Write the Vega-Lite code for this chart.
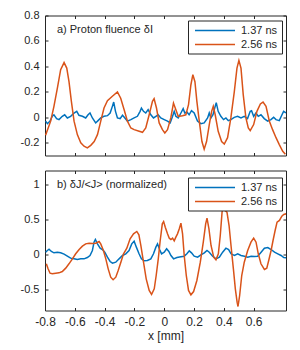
{
  "$schema": "https://vega.github.io/schema/vega-lite/v6.json",
  "padding": {"left": 19, "top": 8.5, "right": 5, "bottom": 5},
  "background": "white",
  "spacing": 13,
  "config": {
    "font": "Liberation Sans",
    "view": {"stroke": "#262626", "strokeWidth": 1},
    "axis": {"domain": false, "grid": false, "tickColor": "#262626", "tickSize": -3, "labelColor": "#262626", "labelFontSize": 11, "labelFont": "Liberation Sans", "labelPadding": 9, "labelFlush": false, "titleFontSize": 12, "titleFont": "Liberation Sans", "titleFontWeight": "normal", "titleColor": "#262626"},
    "legend": {"orient": "none", "title": null, "strokeColor": "#262626", "fillColor": "white", "padding": 4, "symbolType": "M-4,0H4", "symbolSize": 100, "symbolStrokeWidth": 1.5, "symbolOffset": 17, "labelOffset": 20, "labelFontSize": 11, "labelFont": "Liberation Sans", "labelColor": "#262626", "rowPadding": 3, "cornerRadius": 0}
  },
  "datasets": {
    "a": [
      {"series": "1.37 ns", "x": -0.796, "y": -0.03}, {"series": "1.37 ns", "x": -0.784, "y": -0.05}, {"series": "1.37 ns", "x": -0.766, "y": -0.03}, {"series": "1.37 ns", "x": -0.751, "y": 0.008}, {"series": "1.37 ns", "x": -0.74, "y": 0.02}, {"series": "1.37 ns", "x": -0.722, "y": -0.01}, {"series": "1.37 ns", "x": -0.706, "y": -0.018}, {"series": "1.37 ns", "x": -0.684, "y": 0.008}, {"series": "1.37 ns", "x": -0.668, "y": 0.02}, {"series": "1.37 ns", "x": -0.65, "y": -0.005}, {"series": "1.37 ns", "x": -0.628, "y": 0.008}, {"series": "1.37 ns", "x": -0.605, "y": 0.034}, {"series": "1.37 ns", "x": -0.587, "y": 0.047}, {"series": "1.37 ns", "x": -0.572, "y": 0.016}, {"series": "1.37 ns", "x": -0.549, "y": 0.008}, {"series": "1.37 ns", "x": -0.527, "y": -0.005}, {"series": "1.37 ns", "x": -0.511, "y": 0.02}, {"series": "1.37 ns", "x": -0.498, "y": 0.034}, {"series": "1.37 ns", "x": -0.482, "y": -0.005}, {"series": "1.37 ns", "x": -0.46, "y": -0.044}, {"series": "1.37 ns", "x": -0.444, "y": -0.026}, {"series": "1.37 ns", "x": -0.426, "y": -0.005}, {"series": "1.37 ns", "x": -0.404, "y": 0.008}, {"series": "1.37 ns", "x": -0.381, "y": 0.013}, {"series": "1.37 ns", "x": -0.363, "y": 0.034}, {"series": "1.37 ns", "x": -0.348, "y": 0.086}, {"series": "1.37 ns", "x": -0.339, "y": 0.12}, {"series": "1.37 ns", "x": -0.327, "y": 0.047}, {"series": "1.37 ns", "x": -0.314, "y": -0.005}, {"series": "1.37 ns", "x": -0.296, "y": -0.01}, {"series": "1.37 ns", "x": -0.28, "y": 0.016}, {"series": "1.37 ns", "x": -0.264, "y": -0.005}, {"series": "1.37 ns", "x": -0.247, "y": -0.03}, {"series": "1.37 ns", "x": -0.224, "y": -0.018}, {"series": "1.37 ns", "x": -0.202, "y": -0.005}, {"series": "1.37 ns", "x": -0.18, "y": 0.008}, {"series": "1.37 ns", "x": -0.162, "y": 0.047}, {"series": "1.37 ns", "x": -0.153, "y": 0.073}, {"series": "1.37 ns", "x": -0.139, "y": 0.047}, {"series": "1.37 ns", "x": -0.124, "y": 0.034}, {"series": "1.37 ns", "x": -0.108, "y": 0.06}, {"series": "1.37 ns", "x": -0.09, "y": 0.02}, {"series": "1.37 ns", "x": -0.072, "y": -0.005}, {"series": "1.37 ns", "x": -0.056, "y": 0.008}, {"series": "1.37 ns", "x": -0.041, "y": 0.02}, {"series": "1.37 ns", "x": -0.023, "y": -0.005}, {"series": "1.37 ns", "x": 0.0, "y": -0.018}, {"series": "1.37 ns", "x": 0.022, "y": -0.03}, {"series": "1.37 ns", "x": 0.04, "y": -0.044}, {"series": "1.37 ns", "x": 0.056, "y": 0.008}, {"series": "1.37 ns", "x": 0.067, "y": 0.047}, {"series": "1.37 ns", "x": 0.078, "y": 0.008}, {"series": "1.37 ns", "x": 0.094, "y": -0.005}, {"series": "1.37 ns", "x": 0.112, "y": 0.034}, {"series": "1.37 ns", "x": 0.127, "y": 0.068}, {"series": "1.37 ns", "x": 0.138, "y": 0.034}, {"series": "1.37 ns", "x": 0.152, "y": 0.042}, {"series": "1.37 ns", "x": 0.167, "y": 0.02}, {"series": "1.37 ns", "x": 0.183, "y": 0.052}, {"series": "1.37 ns", "x": 0.201, "y": 0.034}, {"series": "1.37 ns", "x": 0.223, "y": -0.03}, {"series": "1.37 ns", "x": 0.246, "y": -0.05}, {"series": "1.37 ns", "x": 0.268, "y": -0.044}, {"series": "1.37 ns", "x": 0.291, "y": -0.005}, {"series": "1.37 ns", "x": 0.302, "y": 0.034}, {"series": "1.37 ns", "x": 0.313, "y": -0.005}, {"series": "1.37 ns", "x": 0.327, "y": 0.02}, {"series": "1.37 ns", "x": 0.34, "y": 0.078}, {"series": "1.37 ns", "x": 0.349, "y": 0.115}, {"series": "1.37 ns", "x": 0.362, "y": 0.047}, {"series": "1.37 ns", "x": 0.38, "y": 0.008}, {"series": "1.37 ns", "x": 0.398, "y": -0.018}, {"series": "1.37 ns", "x": 0.414, "y": -0.005}, {"series": "1.37 ns", "x": 0.43, "y": -0.026}, {"series": "1.37 ns", "x": 0.447, "y": -0.018}, {"series": "1.37 ns", "x": 0.47, "y": 0.0}, {"series": "1.37 ns", "x": 0.492, "y": 0.008}, {"series": "1.37 ns", "x": 0.515, "y": -0.005}, {"series": "1.37 ns", "x": 0.537, "y": 0.008}, {"series": "1.37 ns", "x": 0.559, "y": -0.01}, {"series": "1.37 ns", "x": 0.577, "y": 0.047}, {"series": "1.37 ns", "x": 0.586, "y": 0.052}, {"series": "1.37 ns", "x": 0.6, "y": 0.008}, {"series": "1.37 ns", "x": 0.615, "y": 0.034}, {"series": "1.37 ns", "x": 0.631, "y": 0.008}, {"series": "1.37 ns", "x": 0.649, "y": 0.02}, {"series": "1.37 ns", "x": 0.671, "y": -0.01}, {"series": "1.37 ns", "x": 0.694, "y": -0.03}, {"series": "1.37 ns", "x": 0.716, "y": -0.018}, {"series": "1.37 ns", "x": 0.734, "y": 0.0}, {"series": "1.37 ns", "x": 0.75, "y": -0.018}, {"series": "1.37 ns", "x": 0.772, "y": -0.026}, {"series": "1.37 ns", "x": 0.79, "y": 0.02}, {"series": "1.37 ns", "x": 0.801, "y": 0.047}, {"series": "1.37 ns", "x": 0.817, "y": 0.034},
      {"series": "2.56 ns", "x": -0.796, "y": -0.14}, {"series": "2.56 ns", "x": -0.762, "y": -0.03}, {"series": "2.56 ns", "x": -0.74, "y": 0.086}, {"series": "2.56 ns", "x": -0.717, "y": 0.23}, {"series": "2.56 ns", "x": -0.695, "y": 0.374}, {"series": "2.56 ns", "x": -0.672, "y": 0.43}, {"series": "2.56 ns", "x": -0.654, "y": 0.387}, {"series": "2.56 ns", "x": -0.639, "y": 0.28}, {"series": "2.56 ns", "x": -0.623, "y": 0.125}, {"series": "2.56 ns", "x": -0.605, "y": -0.03}, {"series": "2.56 ns", "x": -0.583, "y": -0.136}, {"series": "2.56 ns", "x": -0.56, "y": -0.2}, {"series": "2.56 ns", "x": -0.538, "y": -0.227}, {"series": "2.56 ns", "x": -0.516, "y": -0.24}, {"series": "2.56 ns", "x": -0.493, "y": -0.22}, {"series": "2.56 ns", "x": -0.47, "y": -0.19}, {"series": "2.56 ns", "x": -0.448, "y": -0.136}, {"series": "2.56 ns", "x": -0.426, "y": -0.03}, {"series": "2.56 ns", "x": -0.404, "y": 0.073}, {"series": "2.56 ns", "x": -0.381, "y": 0.13}, {"series": "2.56 ns", "x": -0.348, "y": 0.165}, {"series": "2.56 ns", "x": -0.314, "y": 0.2}, {"series": "2.56 ns", "x": -0.292, "y": 0.15}, {"series": "2.56 ns", "x": -0.269, "y": 0.06}, {"series": "2.56 ns", "x": -0.247, "y": -0.03}, {"series": "2.56 ns", "x": -0.224, "y": -0.084}, {"series": "2.56 ns", "x": -0.202, "y": -0.097}, {"series": "2.56 ns", "x": -0.168, "y": -0.11}, {"series": "2.56 ns", "x": -0.146, "y": -0.118}, {"series": "2.56 ns", "x": -0.124, "y": -0.084}, {"series": "2.56 ns", "x": -0.101, "y": 0.02}, {"series": "2.56 ns", "x": -0.079, "y": 0.125}, {"series": "2.56 ns", "x": -0.068, "y": 0.146}, {"series": "2.56 ns", "x": -0.052, "y": 0.073}, {"series": "2.56 ns", "x": -0.034, "y": -0.044}, {"series": "2.56 ns", "x": -0.012, "y": -0.097}, {"series": "2.56 ns", "x": 0.004, "y": -0.123}, {"series": "2.56 ns", "x": 0.022, "y": -0.097}, {"series": "2.56 ns", "x": 0.044, "y": -0.005}, {"series": "2.56 ns", "x": 0.062, "y": 0.112}, {"series": "2.56 ns", "x": 0.078, "y": 0.06}, {"series": "2.56 ns", "x": 0.094, "y": 0.008}, {"series": "2.56 ns", "x": 0.123, "y": 0.013}, {"series": "2.56 ns", "x": 0.145, "y": 0.02}, {"series": "2.56 ns", "x": 0.163, "y": 0.1}, {"series": "2.56 ns", "x": 0.179, "y": 0.256}, {"series": "2.56 ns", "x": 0.192, "y": 0.335}, {"series": "2.56 ns", "x": 0.206, "y": 0.28}, {"series": "2.56 ns", "x": 0.219, "y": 0.125}, {"series": "2.56 ns", "x": 0.235, "y": -0.03}, {"series": "2.56 ns", "x": 0.253, "y": -0.19}, {"series": "2.56 ns", "x": 0.268, "y": -0.25}, {"series": "2.56 ns", "x": 0.284, "y": -0.19}, {"series": "2.56 ns", "x": 0.302, "y": -0.06}, {"series": "2.56 ns", "x": 0.318, "y": 0.047}, {"series": "2.56 ns", "x": 0.329, "y": 0.086}, {"series": "2.56 ns", "x": 0.342, "y": 0.02}, {"series": "2.56 ns", "x": 0.362, "y": -0.11}, {"series": "2.56 ns", "x": 0.385, "y": -0.19}, {"series": "2.56 ns", "x": 0.403, "y": -0.21}, {"series": "2.56 ns", "x": 0.425, "y": -0.16}, {"series": "2.56 ns", "x": 0.447, "y": -0.005}, {"series": "2.56 ns", "x": 0.47, "y": 0.2}, {"series": "2.56 ns", "x": 0.488, "y": 0.387}, {"series": "2.56 ns", "x": 0.501, "y": 0.447}, {"series": "2.56 ns", "x": 0.515, "y": 0.387}, {"series": "2.56 ns", "x": 0.53, "y": 0.178}, {"series": "2.56 ns", "x": 0.548, "y": -0.005}, {"series": "2.56 ns", "x": 0.564, "y": -0.084}, {"series": "2.56 ns", "x": 0.577, "y": -0.105}, {"series": "2.56 ns", "x": 0.6, "y": -0.057}, {"series": "2.56 ns", "x": 0.622, "y": 0.047}, {"series": "2.56 ns", "x": 0.645, "y": 0.105}, {"series": "2.56 ns", "x": 0.663, "y": 0.12}, {"series": "2.56 ns", "x": 0.683, "y": 0.086}, {"series": "2.56 ns", "x": 0.705, "y": -0.03}, {"series": "2.56 ns", "x": 0.727, "y": -0.097}, {"series": "2.56 ns", "x": 0.75, "y": -0.16}, {"series": "2.56 ns", "x": 0.772, "y": -0.214}, {"series": "2.56 ns", "x": 0.795, "y": -0.267}, {"series": "2.56 ns", "x": 0.813, "y": -0.29}
    ],
    "b": [
      {"series": "1.37 ns", "x": -0.796, "y": 0.033}, {"series": "1.37 ns", "x": -0.784, "y": 0.057}, {"series": "1.37 ns", "x": -0.773, "y": 0.075}, {"series": "1.37 ns", "x": -0.757, "y": 0.043}, {"series": "1.37 ns", "x": -0.74, "y": 0.024}, {"series": "1.37 ns", "x": -0.717, "y": 0.033}, {"series": "1.37 ns", "x": -0.695, "y": 0.024}, {"series": "1.37 ns", "x": -0.672, "y": 0.005}, {"series": "1.37 ns", "x": -0.65, "y": -0.024}, {"series": "1.37 ns", "x": -0.628, "y": -0.052}, {"series": "1.37 ns", "x": -0.605, "y": -0.062}, {"series": "1.37 ns", "x": -0.583, "y": -0.071}, {"series": "1.37 ns", "x": -0.56, "y": -0.062}, {"series": "1.37 ns", "x": -0.538, "y": -0.062}, {"series": "1.37 ns", "x": -0.516, "y": -0.043}, {"series": "1.37 ns", "x": -0.498, "y": -0.014}, {"series": "1.37 ns", "x": -0.482, "y": 0.057}, {"series": "1.37 ns", "x": -0.471, "y": 0.176}, {"series": "1.37 ns", "x": -0.462, "y": 0.214}, {"series": "1.37 ns", "x": -0.448, "y": 0.152}, {"series": "1.37 ns", "x": -0.43, "y": 0.09}, {"series": "1.37 ns", "x": -0.415, "y": 0.071}, {"series": "1.37 ns", "x": -0.399, "y": 0.033}, {"series": "1.37 ns", "x": -0.381, "y": -0.038}, {"series": "1.37 ns", "x": -0.363, "y": -0.1}, {"series": "1.37 ns", "x": -0.347, "y": -0.124}, {"series": "1.37 ns", "x": -0.325, "y": -0.11}, {"series": "1.37 ns", "x": -0.303, "y": -0.062}, {"series": "1.37 ns", "x": -0.28, "y": -0.014}, {"series": "1.37 ns", "x": -0.258, "y": 0.01}, {"series": "1.37 ns", "x": -0.236, "y": 0.057}, {"series": "1.37 ns", "x": -0.218, "y": 0.152}, {"series": "1.37 ns", "x": -0.202, "y": 0.19}, {"series": "1.37 ns", "x": -0.187, "y": 0.105}, {"series": "1.37 ns", "x": -0.169, "y": 0.01}, {"series": "1.37 ns", "x": -0.153, "y": -0.062}, {"series": "1.37 ns", "x": -0.135, "y": -0.09}, {"series": "1.37 ns", "x": -0.113, "y": -0.086}, {"series": "1.37 ns", "x": -0.09, "y": -0.062}, {"series": "1.37 ns", "x": -0.072, "y": 0.01}, {"series": "1.37 ns", "x": -0.056, "y": 0.105}, {"series": "1.37 ns", "x": -0.045, "y": 0.152}, {"series": "1.37 ns", "x": -0.031, "y": 0.071}, {"series": "1.37 ns", "x": -0.018, "y": 0.01}, {"series": "1.37 ns", "x": 0.0, "y": 0.033}, {"series": "1.37 ns", "x": 0.016, "y": 0.081}, {"series": "1.37 ns", "x": 0.031, "y": 0.043}, {"series": "1.37 ns", "x": 0.045, "y": -0.014}, {"series": "1.37 ns", "x": 0.063, "y": -0.062}, {"series": "1.37 ns", "x": 0.085, "y": -0.043}, {"series": "1.37 ns", "x": 0.112, "y": -0.033}, {"series": "1.37 ns", "x": 0.134, "y": -0.024}, {"series": "1.37 ns", "x": 0.152, "y": 0.01}, {"series": "1.37 ns", "x": 0.168, "y": 0.052}, {"series": "1.37 ns", "x": 0.183, "y": 0.024}, {"series": "1.37 ns", "x": 0.201, "y": -0.024}, {"series": "1.37 ns", "x": 0.224, "y": -0.038}, {"series": "1.37 ns", "x": 0.246, "y": -0.005}, {"series": "1.37 ns", "x": 0.269, "y": 0.024}, {"series": "1.37 ns", "x": 0.287, "y": 0.057}, {"series": "1.37 ns", "x": 0.302, "y": 0.033}, {"series": "1.37 ns", "x": 0.325, "y": -0.024}, {"series": "1.37 ns", "x": 0.347, "y": -0.062}, {"series": "1.37 ns", "x": 0.37, "y": -0.038}, {"series": "1.37 ns", "x": 0.392, "y": 0.033}, {"series": "1.37 ns", "x": 0.414, "y": 0.09}, {"series": "1.37 ns", "x": 0.432, "y": 0.071}, {"series": "1.37 ns", "x": 0.448, "y": 0.01}, {"series": "1.37 ns", "x": 0.471, "y": -0.014}, {"series": "1.37 ns", "x": 0.493, "y": 0.01}, {"series": "1.37 ns", "x": 0.515, "y": -0.014}, {"series": "1.37 ns", "x": 0.538, "y": -0.024}, {"series": "1.37 ns", "x": 0.56, "y": -0.038}, {"series": "1.37 ns", "x": 0.583, "y": -0.024}, {"series": "1.37 ns", "x": 0.605, "y": -0.029}, {"series": "1.37 ns", "x": 0.627, "y": -0.024}, {"series": "1.37 ns", "x": 0.65, "y": 0.033}, {"series": "1.37 ns", "x": 0.672, "y": 0.09}, {"series": "1.37 ns", "x": 0.695, "y": 0.1}, {"series": "1.37 ns", "x": 0.717, "y": 0.071}, {"series": "1.37 ns", "x": 0.74, "y": 0.033}, {"series": "1.37 ns", "x": 0.762, "y": 0.01}, {"series": "1.37 ns", "x": 0.784, "y": -0.014}, {"series": "1.37 ns", "x": 0.802, "y": -0.043}, {"series": "1.37 ns", "x": 0.818, "y": -0.048},
      {"series": "2.56 ns", "x": -0.791, "y": -0.133}, {"series": "2.56 ns", "x": -0.78, "y": -0.2}, {"series": "2.56 ns", "x": -0.766, "y": -0.267}, {"series": "2.56 ns", "x": -0.751, "y": -0.276}, {"series": "2.56 ns", "x": -0.728, "y": -0.267}, {"series": "2.56 ns", "x": -0.706, "y": -0.262}, {"series": "2.56 ns", "x": -0.684, "y": -0.243}, {"series": "2.56 ns", "x": -0.661, "y": -0.195}, {"series": "2.56 ns", "x": -0.639, "y": -0.133}, {"series": "2.56 ns", "x": -0.616, "y": -0.062}, {"series": "2.56 ns", "x": -0.594, "y": 0.01}, {"series": "2.56 ns", "x": -0.571, "y": 0.071}, {"series": "2.56 ns", "x": -0.549, "y": 0.119}, {"series": "2.56 ns", "x": -0.527, "y": 0.152}, {"series": "2.56 ns", "x": -0.504, "y": 0.162}, {"series": "2.56 ns", "x": -0.482, "y": 0.157}, {"series": "2.56 ns", "x": -0.46, "y": 0.162}, {"series": "2.56 ns", "x": -0.437, "y": 0.186}, {"series": "2.56 ns", "x": -0.426, "y": 0.152}, {"series": "2.56 ns", "x": -0.408, "y": 0.057}, {"series": "2.56 ns", "x": -0.392, "y": -0.062}, {"series": "2.56 ns", "x": -0.376, "y": -0.205}, {"series": "2.56 ns", "x": -0.359, "y": -0.324}, {"series": "2.56 ns", "x": -0.343, "y": -0.36}, {"series": "2.56 ns", "x": -0.325, "y": -0.324}, {"series": "2.56 ns", "x": -0.309, "y": -0.229}, {"series": "2.56 ns", "x": -0.291, "y": -0.11}, {"series": "2.56 ns", "x": -0.273, "y": 0.01}, {"series": "2.56 ns", "x": -0.251, "y": 0.09}, {"series": "2.56 ns", "x": -0.229, "y": 0.224}, {"series": "2.56 ns", "x": -0.206, "y": 0.295}, {"series": "2.56 ns", "x": -0.184, "y": 0.329}, {"series": "2.56 ns", "x": -0.17, "y": 0.281}, {"series": "2.56 ns", "x": -0.157, "y": 0.129}, {"series": "2.56 ns", "x": -0.139, "y": -0.11}, {"series": "2.56 ns", "x": -0.121, "y": -0.348}, {"series": "2.56 ns", "x": -0.101, "y": -0.514}, {"series": "2.56 ns", "x": -0.085, "y": -0.571}, {"series": "2.56 ns", "x": -0.067, "y": -0.49}, {"series": "2.56 ns", "x": -0.054, "y": -0.3}, {"series": "2.56 ns", "x": -0.04, "y": -0.062}, {"series": "2.56 ns", "x": -0.027, "y": 0.2}, {"series": "2.56 ns", "x": -0.013, "y": 0.438}, {"series": "2.56 ns", "x": -0.004, "y": 0.471}, {"series": "2.56 ns", "x": 0.007, "y": 0.39}, {"series": "2.56 ns", "x": 0.022, "y": 0.295}, {"series": "2.56 ns", "x": 0.034, "y": 0.233}, {"series": "2.56 ns", "x": 0.045, "y": 0.214}, {"series": "2.56 ns", "x": 0.056, "y": 0.233}, {"series": "2.56 ns", "x": 0.067, "y": 0.195}, {"series": "2.56 ns", "x": 0.078, "y": 0.248}, {"series": "2.56 ns", "x": 0.089, "y": 0.295}, {"series": "2.56 ns", "x": 0.101, "y": 0.367}, {"series": "2.56 ns", "x": 0.112, "y": 0.448}, {"series": "2.56 ns", "x": 0.123, "y": 0.295}, {"series": "2.56 ns", "x": 0.134, "y": -0.014}, {"series": "2.56 ns", "x": 0.148, "y": -0.3}, {"series": "2.56 ns", "x": 0.163, "y": -0.514}, {"series": "2.56 ns", "x": 0.179, "y": -0.576}, {"series": "2.56 ns", "x": 0.197, "y": -0.529}, {"series": "2.56 ns", "x": 0.219, "y": -0.371}, {"series": "2.56 ns", "x": 0.242, "y": -0.11}, {"series": "2.56 ns", "x": 0.262, "y": 0.176}, {"series": "2.56 ns", "x": 0.278, "y": 0.438}, {"series": "2.56 ns", "x": 0.287, "y": 0.519}, {"series": "2.56 ns", "x": 0.3, "y": 0.367}, {"series": "2.56 ns", "x": 0.314, "y": 0.129}, {"series": "2.56 ns", "x": 0.332, "y": -0.038}, {"series": "2.56 ns", "x": 0.347, "y": -0.076}, {"series": "2.56 ns", "x": 0.363, "y": 0.01}, {"series": "2.56 ns", "x": 0.376, "y": 0.271}, {"series": "2.56 ns", "x": 0.388, "y": 0.605}, {"series": "2.56 ns", "x": 0.397, "y": 0.7}, {"series": "2.56 ns", "x": 0.408, "y": 0.629}, {"series": "2.56 ns", "x": 0.421, "y": 0.605}, {"series": "2.56 ns", "x": 0.435, "y": 0.414}, {"series": "2.56 ns", "x": 0.448, "y": 0.129}, {"series": "2.56 ns", "x": 0.464, "y": -0.205}, {"series": "2.56 ns", "x": 0.477, "y": -0.49}, {"series": "2.56 ns", "x": 0.489, "y": -0.681}, {"series": "2.56 ns", "x": 0.495, "y": -0.743}, {"series": "2.56 ns", "x": 0.506, "y": -0.586}, {"series": "2.56 ns", "x": 0.52, "y": -0.3}, {"series": "2.56 ns", "x": 0.537, "y": -0.11}, {"series": "2.56 ns", "x": 0.56, "y": 0.057}, {"series": "2.56 ns", "x": 0.582, "y": 0.176}, {"series": "2.56 ns", "x": 0.6, "y": 0.233}, {"series": "2.56 ns", "x": 0.616, "y": 0.176}, {"series": "2.56 ns", "x": 0.631, "y": 0.01}, {"series": "2.56 ns", "x": 0.649, "y": -0.133}, {"series": "2.56 ns", "x": 0.672, "y": -0.214}, {"series": "2.56 ns", "x": 0.688, "y": -0.195}, {"series": "2.56 ns", "x": 0.701, "y": -0.086}, {"series": "2.56 ns", "x": 0.717, "y": 0.057}, {"series": "2.56 ns", "x": 0.73, "y": 0.2}, {"series": "2.56 ns", "x": 0.744, "y": 0.343}, {"series": "2.56 ns", "x": 0.757, "y": 0.462}, {"series": "2.56 ns", "x": 0.773, "y": 0.486}, {"series": "2.56 ns", "x": 0.789, "y": 0.548}, {"series": "2.56 ns", "x": 0.802, "y": 0.571}, {"series": "2.56 ns", "x": 0.818, "y": 0.581}
    ],
    "labels": [
      {"panel": "a", "label": "a) Proton fluence δI"},
      {"panel": "b", "label": "b) δJ/<J> (normalized)"}
    ]
  },
  "vconcat": [
    {
      "width": 241,
      "height": 140,
      "layer": [
        {
          "data": {"name": "a"},
          "mark": {"type": "line", "strokeWidth": 1.5, "clip": true},
          "encoding": {
            "x": {"field": "x", "type": "quantitative", "scale": {"domain": [-0.8, 0.817], "nice": false, "zero": false}, "axis": {"values": [-0.8, -0.6, -0.4, -0.2, 0, 0.2, 0.4, 0.6], "labels": false, "title": null}},
            "y": {"field": "y", "type": "quantitative", "scale": {"domain": [-0.3, 0.8], "nice": false, "zero": false}, "axis": {"values": [-0.2, 0, 0.2, 0.4, 0.6, 0.8], "labelExpr": "'' + datum.value", "title": null}},
            "color": {"field": "series", "type": "nominal", "scale": {"domain": ["1.37 ns", "2.56 ns"], "range": ["#0072BD", "#D95319"]}, "legend": {"legendX": 143, "legendY": 5}}
          }
        },
        {
          "data": {"name": "labels"},
          "transform": [{"filter": "datum.panel === 'a'"}],
          "mark": {"type": "text", "align": "left", "baseline": "middle", "fontSize": 11, "font": "Liberation Sans", "color": "#262626"},
          "encoding": {
            "x": {"datum": -0.72, "type": "quantitative", "axis": {"orient": "top", "values": [-0.8, -0.6, -0.4, -0.2, 0, 0.2, 0.4, 0.6], "labels": false, "title": null}},
            "y": {"datum": 0.69, "type": "quantitative", "axis": {"orient": "right", "values": [-0.2, 0, 0.2, 0.4, 0.6, 0.8], "labels": false, "title": null}},
            "text": {"field": "label"}
          }
        }
      ],
      "resolve": {"axis": {"x": "independent", "y": "independent"}}
    },
    {
      "width": 241,
      "height": 140,
      "layer": [
        {
          "data": {"name": "b"},
          "mark": {"type": "line", "strokeWidth": 1.5, "clip": true},
          "encoding": {
            "x": {"field": "x", "type": "quantitative", "scale": {"domain": [-0.8, 0.817], "nice": false, "zero": false}, "axis": {"values": [-0.8, -0.6, -0.4, -0.2, 0, 0.2, 0.4, 0.6], "labelExpr": "'' + datum.value", "labelFontSize": 12, "title": "x [mm]", "titlePadding": 3}},
            "y": {"field": "y", "type": "quantitative", "scale": {"domain": [-0.8, 1.2], "nice": false, "zero": false}, "axis": {"values": [-0.5, 0, 0.5, 1], "labelExpr": "'' + datum.value", "title": null}},
            "color": {"field": "series", "type": "nominal", "scale": {"domain": ["1.37 ns", "2.56 ns"], "range": ["#0072BD", "#D95319"]}, "legend": {"legendX": 143, "legendY": 7}}
          }
        },
        {
          "data": {"name": "labels"},
          "transform": [{"filter": "datum.panel === 'b'"}],
          "mark": {"type": "text", "align": "left", "baseline": "middle", "fontSize": 11, "font": "Liberation Sans", "color": "#262626"},
          "encoding": {
            "x": {"datum": -0.72, "type": "quantitative", "axis": {"orient": "top", "values": [-0.8, -0.6, -0.4, -0.2, 0, 0.2, 0.4, 0.6], "labels": false, "title": null}},
            "y": {"datum": 1.0, "type": "quantitative", "axis": {"orient": "right", "values": [-0.5, 0, 0.5, 1], "labels": false, "title": null}},
            "text": {"field": "label"}
          }
        }
      ],
      "resolve": {"axis": {"x": "independent", "y": "independent"}}
    }
  ],
  "resolve": {"scale": {"color": "independent"}, "legend": {"color": "independent"}}
}
